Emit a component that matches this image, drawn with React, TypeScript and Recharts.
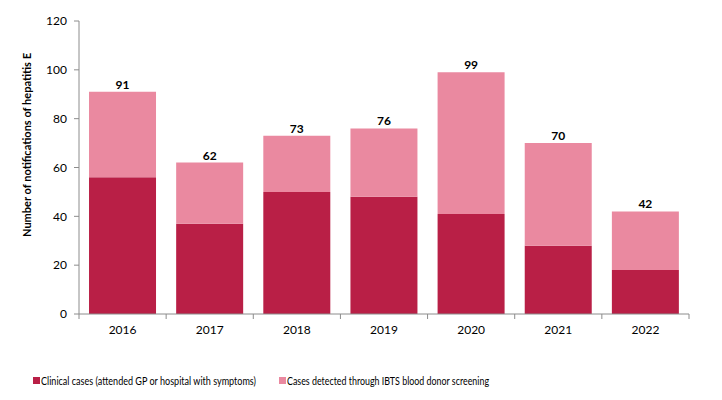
import { BarChart, Bar, XAxis, YAxis, Legend, LabelList, Label } from "recharts";

// ─── Data ─────────────────────────────────────────────────────────────────────

const YEARS = ["2016", "2017", "2018", "2019", "2020", "2021", "2022"];
const CLINICAL = [56, 37, 50, 48, 41, 28, 18];
const TOTALS = [91, 62, 73, 76, 99, 70, 42];
const Y_TICKS = [0, 20, 40, 60, 80, 100, 120];

const DARK = "#B91F46";
const LIGHT = "#EA89A0";
const AXIS = "#8C8C8C";
const FONT = "Lato, 'Open Sans', sans-serif";

const data = YEARS.map((year, i) => ({
  year,
  clinical: CLINICAL[i],
  ibts: TOTALS[i] - CLINICAL[i],
  total: TOTALS[i],
}));

const BAND = (689 - 79) / YEARS.length;

function YearTick(props: any) {
  const { x, y, payload, index } = props;
  return (
    <g>
      {index === 0 && <line x1={x - BAND / 2} x2={x - BAND / 2} y1={y} y2={y + 5} stroke={AXIS} />}
      <line x1={x + BAND / 2} x2={x + BAND / 2} y1={y} y2={y + 5} stroke={AXIS} />
      <text x={x} y={y + 20} textAnchor="middle" fontSize={12} fill="#000" fontFamily={FONT}>
        {payload.value}
      </text>
    </g>
  );
}

function TotalLabel(props: any) {
  const { x, y, width, index } = props;
  return (
    <text x={x + width / 2} y={y - 3} textAnchor="middle" fontSize={12} fontWeight="bold" fill="#000" fontFamily={FONT}>
      {TOTALS[index]}
    </text>
  );
}

function YTitle() {
  return (
    <text
      transform="translate(31,145) rotate(-90)"
      textAnchor="middle"
      fontSize={11}
      fontWeight="bold"
      fill="#000"
      fontFamily={FONT}
      textLength={184}
      lengthAdjust="spacingAndGlyphs"
    >
      Number of notifications of hepatitis E
    </text>
  );
}

// legend drawn in svg so the text widths can be fitted to the reference
function LegendBox() {
  const items = [
    { label: "Clinical cases (attended GP or hospital with symptoms)", color: DARK, x: 33, w: 215 },
    { label: "Cases detected through IBTS blood donor screening", color: LIGHT, x: 279, w: 202 },
  ];
  return (
    <svg width={722} height={40} style={{ display: "block" }}>
      {items.map((it) => (
        <g key={it.label}>
          <rect x={it.x} y={17} width={7} height={7} fill={it.color} />
          <text
            x={it.x + 8}
            y={25}
            fontSize={11.5}
            fontFamily={FONT}
            fill="#000"
            textLength={it.w}
            lengthAdjust="spacingAndGlyphs"
          >
            {it.label}
          </text>
        </g>
      ))}
    </svg>
  );
}

export default function App() {
  return (
    <div style={{ position: "absolute", left: 0, top: 0, width: 722, height: 400, background: "#fff" }}>
      <BarChart
        width={722}
        height={400}
        data={data}
        margin={{ top: 21, right: 33, bottom: 0, left: 0 }}
        barCategoryGap="11.5%"
      >
        <YAxis
          width={79}
          domain={[0, 120]}
          ticks={Y_TICKS}
          interval={0}
          stroke={AXIS}
          tickSize={5}
          tickMargin={7}
          tick={{ fontSize: 12, fill: "#000", fontFamily: FONT }}
        >
          <Label content={() => <YTitle />} />
        </YAxis>
        <XAxis
          dataKey="year"
          height={46}
          stroke={AXIS}
          tickLine={false}
          tickSize={0}
          tickMargin={0}
          interval={0}
          tick={<YearTick />}
        />
        <Legend
          verticalAlign="bottom"
          height={40}
          wrapperStyle={{ left: 0, width: 722 }}
          content={() => <LegendBox />}
        />
        <Bar dataKey="clinical" stackId="a" fill={DARK} isAnimationActive={false} />
        <Bar dataKey="ibts" stackId="a" fill={LIGHT} isAnimationActive={false}>
          <LabelList dataKey="total" content={<TotalLabel />} />
        </Bar>
      </BarChart>
    </div>
  );
}
